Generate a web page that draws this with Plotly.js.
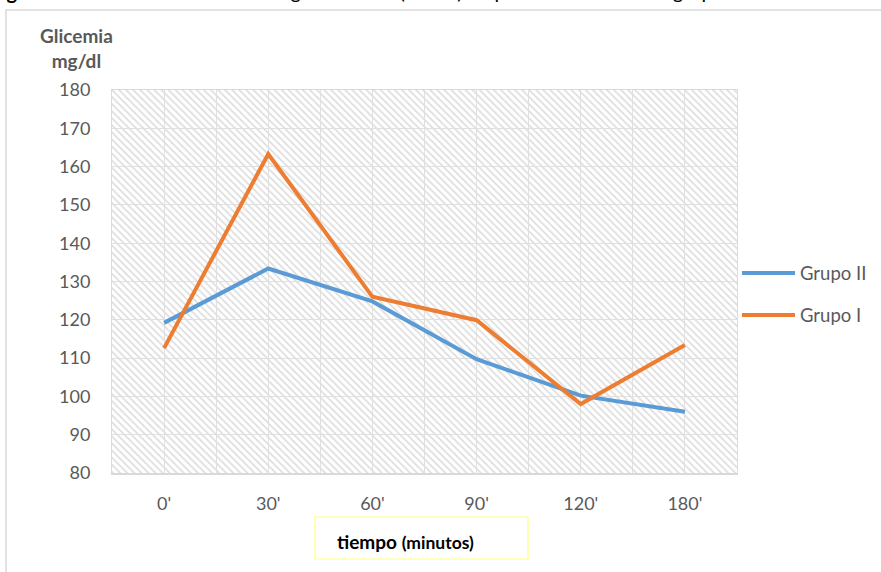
<!DOCTYPE html>
<html>
<head>
<meta charset="utf-8">
<script src="https://cdn.plot.ly/plotly-3.0.1.min.js"></script>
<style>
  html, body { margin: 0; padding: 0; background: #ffffff; }
  #chart { width: 881px; height: 572px; }
</style>
</head>
<body>
<div id="chart"></div>
<script>
// Time points of the glucose tolerance curve
const tiempos = ["0'", "30'", "60'", "90'", "120'", "180'"];

// Mean glycaemia (mg/dl) per group
const grupoII = [119.2, 133.4, 124.8, 109.7, 100.2, 96.0];
const grupoI  = [112.6, 163.3, 126.0, 119.9, 98.0, 113.4];

const seriesNames  = ["Grupo II", "Grupo I"];
const seriesValues = [grupoII, grupoI];
const seriesColors = ["#5b9bd5", "#ed7d31"];

// Value axis
const yMin = 80, yMax = 180, yStep = 10;

// Plot area geometry (px) used to place the outside decorations
const W = 881, H = 572;
const M = { l: 112, r: 144, t: 90, b: 99 };
const PW = W - M.l - M.r, PH = H - M.t - M.b;
const px = x => (x - M.l) / PW;
const py = y => (H - M.b - y) / PH;

const FONT = "Lato, 'Open Sans', sans-serif";
const GRID = "#e0e0e0";

// Hatched background of the plotting area, on its own subplot below the grid
const hatch = {
  type: "scatter", mode: "lines", xaxis: "x", yaxis: "y",
  x: [0, 1, 1, 0, 0], y: [0, 0, 1, 1, 0],
  line: { width: 0, color: "rgba(0,0,0,0)" },
  fill: "toself", fillcolor: "#ffffff",
  fillpattern: { shape: "\\", fgcolor: "#dcdcdc", bgcolor: "#ffffff", size: 5, solidity: 0.32 },
  hoverinfo: "skip", showlegend: false
};

const lines = seriesNames.map((name, i) => ({
  type: "scatter", mode: "lines", name: name,
  xaxis: "x2", yaxis: "y2",
  x: tiempos.map((_, k) => k), y: seriesValues[i],
  line: { color: seriesColors[i], width: 4 },
  showlegend: false
}));

// Gridlines between categories
const halfTicks = tiempos.map((_, k) => k - 0.5).concat([tiempos.length - 0.5]);

// Hand-drawn legend (longer line samples than the built-in one)
const legendY = [273, 315];
const legendShapes = seriesNames.map((n, i) => ({
  type: "line", xref: "paper", yref: "paper",
  x0: px(742), x1: px(795), y0: py(legendY[i]), y1: py(legendY[i]),
  line: { color: seriesColors[i], width: 4 }
}));
const legendLabels = seriesNames.map((n, i) => ({
  xref: "paper", yref: "paper", x: px(798), y: py(legendY[i]),
  xanchor: "left", yanchor: "middle", showarrow: false,
  text: n, font: { family: FONT, size: 18.5, color: "#595959" }
}));

const layout = {
  width: W, height: H,
  margin: M,
  paper_bgcolor: "#ffffff", plot_bgcolor: "rgba(0,0,0,0)",
  showlegend: false,
  xaxis: { domain: [0, 1], range: [0, 1], visible: false, fixedrange: true },
  yaxis: { domain: [0, 1], range: [0, 1], visible: false, fixedrange: true },
  xaxis2: {
    domain: [0, 1], anchor: "y2",
    range: [-0.5, tiempos.length - 0.5],
    tickmode: "array", tickvals: tiempos.map((_, k) => k), ticktext: tiempos,
    showgrid: true, gridcolor: GRID, gridwidth: 1,
    minor: { tickmode: "array", tickvals: halfTicks, showgrid: true, gridcolor: GRID, gridwidth: 1, ticks: "" },
    showline: true, mirror: true, linecolor: "#d9d9d9", linewidth: 1.5,
    ticks: "", ticklabelstandoff: 14, zeroline: false,
    tickfont: { family: FONT, size: 18, color: "#595959" }
  },
  yaxis2: {
    domain: [0, 1], anchor: "x2",
    range: [yMin, yMax], tickmode: "linear", tick0: yMin, dtick: yStep,
    showgrid: true, gridcolor: GRID, gridwidth: 1,
    showline: true, mirror: true, linecolor: "#dcdcdc", linewidth: 1,
    ticks: "", ticklabelstandoff: 17, zeroline: false,
    tickfont: { family: FONT, size: 18, color: "#595959" }
  },
  shapes: [
    // outer frame of the chart
    { type: "rect", xref: "paper", yref: "paper", layer: "below",
      x0: px(6), x1: px(900), y0: py(600), y1: py(10),
      line: { color: "#d9d9d9", width: 1.5 }, fillcolor: "rgba(0,0,0,0)" },
    // box around the time axis caption
    { type: "rect", xref: "paper", yref: "paper",
      x0: px(315), x1: px(528), y0: py(559), y1: py(517),
      line: { color: "#ffff80", width: 1.2 }, fillcolor: "rgba(0,0,0,0)" }
  ].concat(legendShapes),
  annotations: [
    { xref: "paper", yref: "paper", x: px(-12), y: py(5), xanchor: "left", yanchor: "bottom",
      showarrow: false, align: "left",
      text: "<b>Figura 1.</b> Curvas de tolerancia a la glucosa oral (media) en pacientes de ambos grupos",
      font: { family: FONT, size: 20, color: "#000000" } },
    { xref: "paper", yref: "paper", x: px(76), y: py(48), xanchor: "center", yanchor: "middle",
      showarrow: false, align: "center",
      text: "<b>Glicemia<br>mg/dl</b>",
      font: { family: FONT, size: 19, color: "#595959" } },
    { xref: "paper", yref: "paper", x: px(335), y: py(541), xanchor: "left", yanchor: "middle",
      showarrow: false, align: "left",
      text: "<b>tiempo <span style='font-size:17.5px'>(minutos)</span></b>",
      font: { family: FONT, size: 19, color: "#000000" } }
  ].concat(legendLabels)
};

Plotly.newPlot("chart", [hatch].concat(lines), layout, { displayModeBar: false, staticPlot: true });
</script>
</body>
</html>
